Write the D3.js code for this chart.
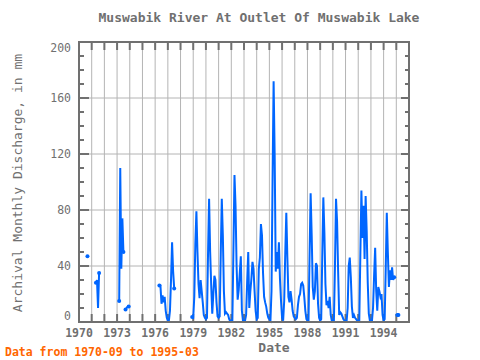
<!DOCTYPE html>
<html>
<head>
<meta charset="utf-8">
<script src="https://cdn.jsdelivr.net/npm/d3@7/dist/d3.min.js"></script>
<style>
  body { margin: 0; background: white; }
  text { font-family: "DejaVu Sans Mono", monospace; }
</style>
</head>
<body>
<div id="chart"></div>
<script>
// chart text
const title = "Muswabik River At Outlet Of Muswabik Lake";
const yTitle = "Archival Monthly Discharge, in mm";
const xTitle = "Date";
const footnote = "Data from 1970-09 to 1995-03";

// axes
const yearTicks = [1970, 1973, 1976, 1979, 1982, 1985, 1988, 1991, 1994];
const valueTicks = [0, 40, 80, 120, 160, 200];

// monthly discharge (mm), first value is 1970-09, null = no record
const firstYear = 1970, firstMonth = 9;
const discharge = [
  47, null, null, null,                                          // 1970
  null, null, null, null, 28, 30, 10, 35, null, null, null, null, // 1971
  null, null, null, null, null, null, null, null, null, null, null, null, // 1972
  null, null, 15, 110, 38, 74, 50, null, 9, 10, 11, 11,          // 1973
  null, null, null, null, null, null, null, null, null, null, null, null, // 1974
  null, null, null, null, null, null, null, null, null, null, null, null, // 1975
  null, null, null, null, 26, 26, 13, 19, 14, 18, 8, 3,          // 1976
  1, 1, 8, 30, 57, 36, 24, null, null, null, null, null,         // 1977
  null, null, null, null, null, null, null, null, null, null, null, 3.5, // 1978
  3, 18, 56, 79, 50, 27, 17, 30, 22, 14, 5, 3,                   // 1979
  2, 3, 49, 88, 50, 26, 6, 20, 33, 30, 14, 4,                    // 1980
  3, 4, 48, 88, 62, 22, 6, 7, 6, 5, 2, 0.5,                      // 1981
  1, 1, 52, 105, 83, 40, 16, 23, 35, 47, 8, 1,                   // 1982
  1, 1, 5, 29, 50, 10, 22, 31, 43, 38, 22, 8,                    // 1983
  2, 3, 38, 46, 70, 62, 35, 18, 14, 11, 6, 3,                    // 1984
  2, 1, 22, 101, 172, 119, 36, 50, 38, 57, 31, 15,               // 1985
  3, 1, 15, 49, 78, 46, 18, 14, 22, 16, 8, 4,                    // 1986
  3, 2, 3, 12, 18, 20, 27, 28, 26, 18, 8, 2,                     // 1987
  1, 1, 48, 92, 62, 25, 16, 22, 42, 40, 13, 3,                   // 1988
  1, 2, 47, 89, 64, 27, 12, 15, 10, 18, 5, 1,                    // 1989
  1, 1, 40, 88, 72, 36, 5, 7, 6, 4, 2, 1,                        // 1990
  0.5, 0.5, 10, 40, 46, 32, 11, 3, 5, 3, 2, 1,                   // 1991
  1, 1, 48, 94, 60, 83, 45, 90, 65, 28, 6, 1,                    // 1992
  1, 1, 10, 33, 53, 22, 8, 25, 22, 18, 20, 5,                    // 1993
  1, 2, 38, 78, 50, 25, 37, 30, 39, 30, 32, null,                // 1994
  null, 5, 5                                                     // 1995
];

const width = 480, height = 360;
const plot = { left: 79, right: 409, top: 42, bottom: 322 };
const grey = "#707070", blue = "#0066ff";

const svg = d3.select("#chart").append("svg")
  .attr("width", width)
  .attr("height", height)
  .style("background", "white");

const x = d3.scaleLinear().domain([1970, 1996]).range([plot.left, plot.right]);
const y = d3.scaleLinear().domain([0, 200]).range([plot.bottom, plot.top]);

const points = discharge.map((v, i) => ({
  t: firstYear + (firstMonth - 1 + i) / 12,
  v
}));

// grid
const years = d3.range(1971, 1996);
svg.append("g").selectAll("line").data(years).join("line")
  .attr("x1", d => x(d)).attr("x2", d => x(d))
  .attr("y1", plot.top).attr("y2", plot.bottom)
  .attr("stroke", "#b4b4b4").attr("stroke-width", 1);

svg.append("g").selectAll("line").data(valueTicks.slice(1, -1)).join("line")
  .attr("x1", plot.left).attr("x2", plot.right)
  .attr("y1", d => y(d)).attr("y2", d => y(d))
  .attr("stroke", "#b4b4b4").attr("stroke-width", 1);

// tick marks
const ticks = svg.append("g").attr("stroke", grey).attr("stroke-width", 2);
years.forEach(yr => {
  ticks.append("line").attr("x1", x(yr)).attr("x2", x(yr))
    .attr("y1", plot.top).attr("y2", plot.top + 8);
  ticks.append("line").attr("x1", x(yr)).attr("x2", x(yr))
    .attr("y1", plot.bottom - 8).attr("y2", plot.bottom);
});
d3.range(10, 200, 10).forEach(v => {
  const major = v % 40 === 0;
  ticks.append("line").attr("x1", plot.left).attr("x2", plot.left + (major ? 10 : 5))
    .attr("y1", y(v)).attr("y2", y(v));
  ticks.append("line").attr("x1", plot.right - (major ? 8 : 4)).attr("x2", plot.right)
    .attr("y1", y(v)).attr("y2", y(v));
});

// data line
const line = d3.line()
  .defined(d => d.v != null)
  .x(d => x(d.t))
  .y(d => y(d.v));

svg.append("path")
  .datum(points)
  .attr("d", line)
  .attr("fill", "none")
  .attr("stroke", blue)
  .attr("stroke-width", 2);

// markers at the ends of each run of records
const ends = points.filter((d, i) => d.v != null &&
  (i === 0 || points[i - 1].v == null || i === points.length - 1 || points[i + 1].v == null));
svg.append("g").selectAll("circle").data(ends).join("circle")
  .attr("cx", d => x(d.t))
  .attr("cy", d => y(d.v))
  .attr("r", 2)
  .attr("fill", blue);

// frame
svg.append("rect")
  .attr("x", plot.left).attr("y", plot.top)
  .attr("width", plot.right - plot.left).attr("height", plot.bottom - plot.top)
  .attr("fill", "none").attr("stroke", grey).attr("stroke-width", 2);

// tick labels
svg.append("g").selectAll("text").data(yearTicks).join("text")
  .attr("x", d => x(d)).attr("y", 337)
  .attr("text-anchor", "middle")
  .attr("font-size", 11.5).attr("font-weight", "bold")
  .attr("fill", grey)
  .text(d => d);

svg.append("g").selectAll("text").data(valueTicks).join("text")
  .attr("x", 71)
  .attr("y", d => Math.min(316, Math.max(48, y(d))) + 4)
  .attr("text-anchor", "end")
  .attr("font-size", 11.5)
  .attr("fill", grey)
  .text(d => d);

// titles
svg.append("text")
  .attr("x", 259).attr("y", 22)
  .attr("text-anchor", "middle")
  .attr("font-size", 13).attr("font-weight", "bold")
  .attr("fill", grey)
  .text(title);

svg.append("text")
  .attr("transform", "translate(22,183) rotate(-90)")
  .attr("text-anchor", "middle")
  .attr("font-size", 13)
  .attr("fill", grey)
  .text(yTitle);

svg.append("text")
  .attr("x", 274).attr("y", 352)
  .attr("text-anchor", "middle")
  .attr("font-size", 13).attr("font-weight", "bold")
  .attr("fill", grey)
  .text(xTitle);

svg.append("text")
  .attr("x", 5).attr("y", 356)
  .attr("font-size", 11.5).attr("font-weight", "bold")
  .attr("fill", "#ff6600")
  .text(footnote);
</script>
</body>
</html>
